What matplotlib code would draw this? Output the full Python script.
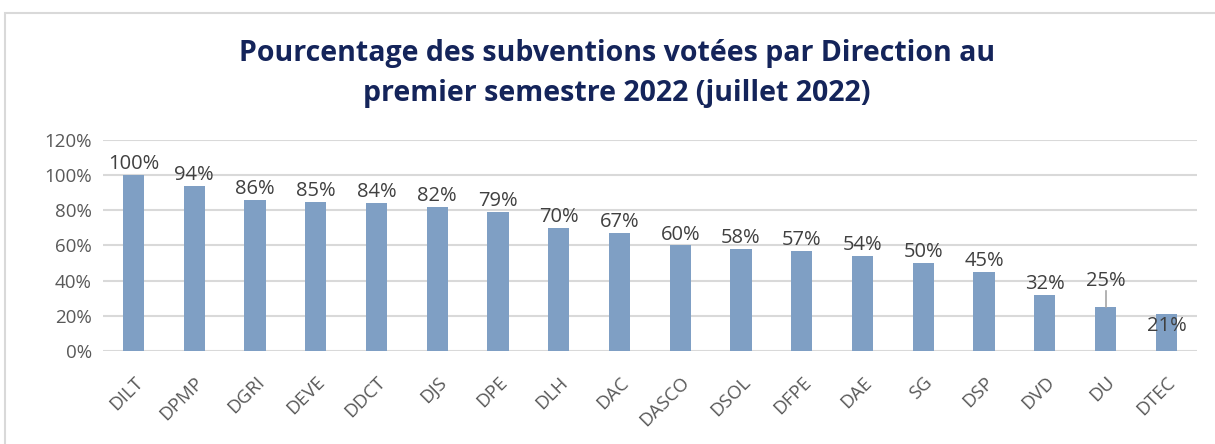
import matplotlib.pyplot as plt
from matplotlib.patches import Rectangle

directions = ["DILT", "DPMP", "DGRI", "DEVE", "DDCT", "DJS", "DPE", "DLH", "DAC",
              "DASCO", "DSOL", "DFPE", "DAE", "SG", "DSP", "DVD", "DU", "DTEC"]
percent = [100, 94, 86, 85, 84, 82, 79, 70, 67, 60, 58, 57, 54, 50, 45, 32, 25, 21]
yticks = [0, 20, 40, 60, 80, 100, 120]

plt.rcParams['font.family'] = ['Open Sans', 'DejaVu Sans']

fig = plt.figure(figsize=(12.15, 4.44), dpi=100)
fig.patches.append(Rectangle((0.004, -0.01), 1.0, 0.98, transform=fig.transFigure,
                             fill=False, edgecolor='#d9d9d9', linewidth=1.5))
ax = fig.add_axes([0.0848, 0.2095, 0.9002, 0.4752])

x = range(len(directions))
ax.bar(x, percent, width=0.35, color='#7f9fc4', zorder=3)
ax.set_xlim(-0.5, len(directions) - 0.5)
ax.set_ylim(0, 120)
ax.set_yticks(yticks)
ax.set_yticklabels([f"{v}%" for v in yticks], fontsize=13.5, color='#595959')
ax.set_xticks(list(x))
ax.set_xticklabels(directions, rotation=45, ha='right', rotation_mode='anchor',
                   fontsize=13.5, color='#595959')
ax.tick_params(length=0, pad=8)
ax.tick_params(axis='x', pad=16)
ax.grid(axis='y', color='#d9d9d9', linewidth=1.5, zorder=0)
for s in ax.spines.values():
    s.set_visible(False)

for i, v in enumerate(percent):
    txt = f"{v}%"
    if directions[i] == "DU":
        ax.plot([i, i], [v, v + 9], color='#a6a6a6', linewidth=1.2, zorder=4)
        ax.text(i, v + 9, txt, ha='center', va='bottom', fontsize=14.5, color='#404040')
    elif directions[i] == "DTEC":
        ax.text(i, v - 7, txt, ha='center', va='center', fontsize=14.5, color='#404040', zorder=5)
    else:
        ax.text(i, v + 0.5, txt, ha='center', va='bottom', fontsize=14.5, color='#404040')

fig.text(0.508, 0.835, "Pourcentage des subventions votées par Direction au\npremier semestre 2022 (juillet 2022)",
         ha='center', va='center', fontsize=20.5, fontweight='bold', color='#14245a',
         linespacing=1.5)

fig.savefig("out.png", dpi=100)
